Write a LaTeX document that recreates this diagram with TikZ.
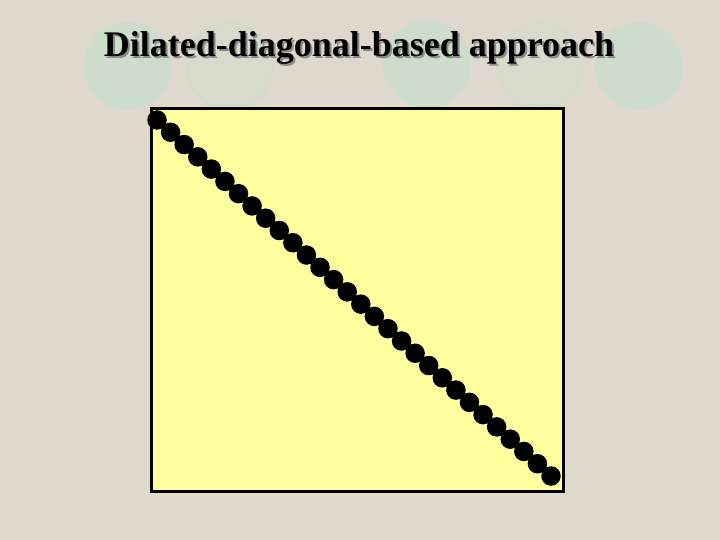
\documentclass[tikz,border=0pt]{standalone}
\usepackage{fontspec}
\setmainfont{Liberation Serif}
\usepackage{tikz}
\usetikzlibrary{calc}
\definecolor{paper}{RGB}{223,216,204}
\definecolor{sage}{RGB}{206,220,203}
\definecolor{padyellow}{RGB}{255,255,160}
\newcommand\dotstepx{13.586}
\newcommand\dotstepy{12.276}
\newcommand\shadowed[1]{\rlap{\hspace{2pt}\raisebox{-2pt}{\textcolor{black!45}{#1}}}#1}

\begin{document}
\begin{tikzpicture}[x=1pt, y=-1pt]
        \fill[paper] (0,0) rectangle (720,540);
        % backdrop discs
        \fill[sage] (128,66) circle (44);
        \fill[sage!40!paper] (230,66) circle (44);
        \draw[sage!70!paper, line width=1.5pt] (230,66) circle (43);
        \fill[sage] (427,64) circle (44);
        \fill[sage!40!paper] (540,66) circle (44);
        \draw[sage!70!paper, line width=1.5pt] (540,66) circle (43);
        \fill[sage] (639,66) circle (44);
        % title
        \node[inner sep=0pt, outer sep=0pt, anchor=base] (T) at (359,57) {\fontsize{36}{40}\selectfont\bfseries\shadowed{Dilated-diagonal-based approach}};
        % matrix pad
        \draw[line width=3pt, fill=padyellow] (151.5,108.5) rectangle (563.5,491);
        \foreach \i in {0,...,29}
            \node[circle, fill=black, inner sep=0pt, outer sep=0pt, minimum size=19.5pt] (d\i) at ({157+\i*\dotstepx}, {120+\i*\dotstepy}) {};
    \end{tikzpicture}
\end{document}
